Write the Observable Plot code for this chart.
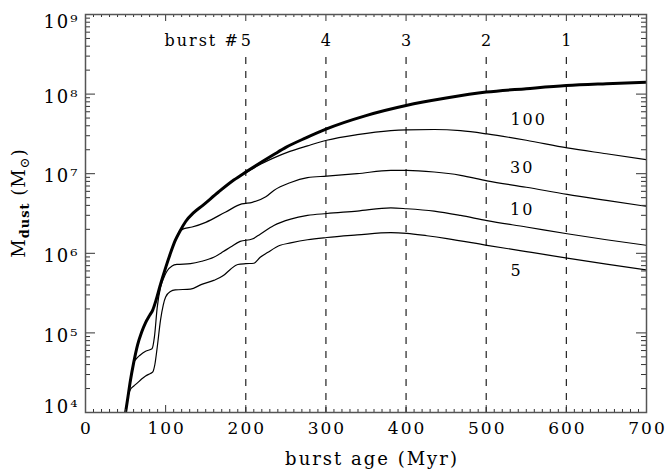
<!DOCTYPE html>
<html><head><meta charset="utf-8">
<script src="https://cdn.jsdelivr.net/npm/d3@7"></script>
<script src="https://cdn.jsdelivr.net/npm/@observablehq/plot@0.6"></script>
<style>body{margin:0;background:#fff} #chart svg{display:block}</style>
</head><body><div id="chart"></div>
<script>
// ---- data (burst age in Myr, dust mass in solar masses) ----
const ageTotal = [50, 53, 56, 60, 65, 70, 75, 80, 84, 88, 93, 100, 106, 112, 118, 125, 135, 146, 166, 185, 200, 235, 250, 275, 300, 350, 400, 450, 500, 550, 600, 650, 700];
const mTotal = [1.0e4, 1.58e4, 2.51e4, 4.17e4, 7.08e4, 1.02e5, 1.35e5, 1.66e5, 1.95e5, 2.57e5, 3.89e5, 6.61e5, 1.0e6, 1.45e6, 1.91e6, 2.51e6, 3.24e6, 3.98e6, 5.89e6, 8.32e6, 1.05e7, 1.74e7, 2.14e7, 2.82e7, 3.63e7, 5.37e7, 7.19e7, 8.91e7, 1.06e8, 1.17e8, 1.28e8, 1.35e8, 1.41e8];

const age100 = [50, 53, 56, 60, 65, 70, 75, 80, 84, 88, 93, 100, 106, 112, 118, 125, 135, 146, 166, 185, 200, 215, 235, 255, 277, 301, 339, 381, 401, 435, 468, 501, 550, 601, 650, 700];
const m100 = [1.0e4, 1.58e4, 2.51e4, 4.17e4, 7.08e4, 1.02e5, 1.35e5, 1.66e5, 1.95e5, 2.57e5, 3.89e5, 6.61e5, 1.0e6, 1.45e6, 1.91e6, 2.51e6, 3.24e6, 3.98e6, 5.89e6, 8.32e6, 1.02e7, 1.26e7, 1.58e7, 1.91e7, 2.24e7, 2.63e7, 3.09e7, 3.47e7, 3.55e7, 3.59e7, 3.47e7, 3.16e7, 2.63e7, 2.11e7, 1.78e7, 1.50e7];

const age30 = [50, 53, 56, 60, 65, 70, 75, 80, 84, 88, 93, 100, 106, 112, 117, 123, 133, 150, 175, 195, 208, 225, 235, 256, 277, 301, 339, 381, 401, 435, 468, 501, 550, 601, 650, 700];
const m30 = [1.0e4, 1.58e4, 2.51e4, 4.17e4, 7.08e4, 1.02e5, 1.35e5, 1.66e5, 1.95e5, 2.57e5, 3.89e5, 6.61e5, 1.0e6, 1.45e6, 1.86e6, 2.04e6, 2.14e6, 2.45e6, 3.31e6, 4.17e6, 4.37e6, 5.13e6, 6.17e6, 7.76e6, 8.91e6, 9.33e6, 1.0e7, 1.10e7, 1.10e7, 1.05e7, 9.55e6, 8.13e6, 6.76e6, 5.50e6, 4.62e6, 3.89e6];

const age10 = [50, 53, 56, 60, 63, 68, 75, 83, 86, 89.5, 93.6, 98, 102, 108, 114, 131, 145, 160, 172, 181, 193, 208, 218, 235, 256, 277, 301, 339, 381, 401, 435, 468, 501, 550, 601, 650, 700];
const m10 = [1.0e4, 1.58e4, 2.51e4, 4.17e4, 4.68e4, 5.25e4, 5.89e4, 6.31e4, 8.91e4, 2.09e5, 3.72e5, 5.01e5, 6.03e5, 6.92e5, 7.24e5, 7.41e5, 7.94e5, 8.91e5, 1.05e6, 1.20e6, 1.41e6, 1.51e6, 1.74e6, 2.24e6, 2.69e6, 2.99e6, 3.16e6, 3.39e6, 3.72e6, 3.63e6, 3.39e6, 2.99e6, 2.57e6, 2.14e6, 1.76e6, 1.48e6, 1.26e6];

const age5 = [50, 53, 56, 60, 64.5, 70, 75, 81, 84, 86.5, 89.5, 93.6, 97, 100, 106, 112, 131, 145, 160, 172, 181, 190, 200, 210, 218, 227, 243, 256, 277, 301, 339, 381, 401, 426, 451, 501, 550, 601, 650, 700];
const m5 = [1.0e4, 1.58e4, 1.95e4, 2.14e4, 2.34e4, 2.63e4, 2.88e4, 3.09e4, 3.24e4, 3.98e4, 6.61e4, 1.45e5, 2.24e5, 2.82e5, 3.31e5, 3.47e5, 3.55e5, 4.07e5, 4.57e5, 5.25e5, 6.31e5, 7.24e5, 7.41e5, 7.50e5, 8.91e5, 1.02e6, 1.26e6, 1.35e6, 1.48e6, 1.58e6, 1.70e6, 1.82e6, 1.78e6, 1.66e6, 1.53e6, 1.26e6, 1.05e6, 8.71e5, 7.33e5, 6.17e5];

const curveNames = ["100", "30", "10", "5"];
const curveLabelAge = [553, 545, 545, 538];
const curveLabelM = [4.75e7, 1.19e7, 3.52e6, 5.96e5];

const burstAges = [200, 300, 400, 500, 600];
const burstLabels = ["5", "4", "3", "2", "1"];
const burstPrefix = "burst #";
const burstLabelM = 4.6e8;

const xTicks = [0, 100, 200, 300, 400, 500, 600, 700];
const xTickLabels = ["0", "100", "200", "300", "400", "500", "600", "700"];
const yTicks = [1e4, 1e5, 1e6, 1e7, 1e8, 1e9];
const yTickLabels = ["10\u2074", "10\u2075", "10\u2076", "10\u2077", "10\u2078", "10\u2079"];
const xTitle = "burst age (Myr)";

// ---- build tables ----
const thin = [];
[[age100, m100, "100"], [age30, m30, "30"], [age10, m10, "10"], [age5, m5, "5"]].forEach(([a, m, s]) => {
  a.forEach((t, i) => thin.push({age: t, m: m[i], series: s}));
});
const thick = ageTotal.map((t, i) => ({age: t, m: mTotal[i]}));
const xMinor = d3.range(0, 701, 10).filter(v => v % 100 !== 0);
const yMinor = [];
for (let e = 4; e < 9; e++) for (let k = 2; k <= 9; k++) yMinor.push(k * Math.pow(10, e));
const curveLab = curveNames.map((n, i) => ({age: curveLabelAge[i], m: curveLabelM[i], text: n}));
const burstLab = burstAges.map((a, i) => ({age: a, text: burstLabels[i]}));
const yLab = yTicks.map((v, i) => ({v, text: yTickLabels[i]}));

const W = 668, H = 475, mL = 85, mR = 22, mT = 14, mB = 63;
const fw = W - mL - mR, fh = H - mT - mB;
const serif = "DejaVu Serif";
const tickColor = "#333";

const plot = Plot.plot({
  width: W, height: H,
  marginLeft: mL, marginRight: mR, marginTop: mT, marginBottom: mB,
  style: {fontFamily: serif, background: "#fff", color: "#000", letterSpacing: "2px", overflow: "visible"},
  x: {domain: [0, 700], axis: null},
  y: {type: "log", domain: [1e4, 1e9], axis: null},
  marks: [
    Plot.ruleX(burstAges, {x: d => d, insetTop: 43, stroke: "#222", strokeWidth: 1.2, strokeDasharray: "7,7"}),
    Plot.line(thin, {x: "age", y: "m", z: "series", stroke: "#000", strokeWidth: 1.2, curve: "monotone-x", clip: true}),
    Plot.line(thick, {x: "age", y: "m", stroke: "#000", strokeWidth: 3, curve: "monotone-x", clip: true}),
    // inward ticks
    Plot.ruleX(xMinor, {x: d => d, insetTop: fh - 3, stroke: tickColor}),
    Plot.ruleX(xMinor, {x: d => d, insetBottom: fh - 3, stroke: tickColor}),
    Plot.ruleX(xTicks, {x: d => d, insetTop: fh - 7, stroke: tickColor}),
    Plot.ruleX(xTicks, {x: d => d, insetBottom: fh - 7, stroke: tickColor}),
    Plot.ruleY(yMinor, {y: d => d, insetRight: fw - 5, stroke: tickColor}),
    Plot.ruleY(yMinor, {y: d => d, insetLeft: fw - 5, stroke: tickColor}),
    Plot.ruleY(yTicks, {y: d => d, insetRight: fw - 10, stroke: tickColor}),
    Plot.ruleY(yTicks, {y: d => d, insetLeft: fw - 10, stroke: tickColor}),
    Plot.frame({stroke: "#555", strokeWidth: 1.5}),
    // tick labels
    Plot.text(xTicks, {x: d => d, text: (d, i) => xTickLabels[i], frameAnchor: "bottom", lineAnchor: "top", dy: 9, dx: 1, fontSize: 17}),
    Plot.text(yLab.filter(d => d.v > 1e4 && d.v < 1e9), {y: "v", text: "text", frameAnchor: "left", textAnchor: "end", dx: -6, dy: 3, fontSize: 18}),
    Plot.text(yLab.filter(d => d.v === 1e9), {y: "v", text: "text", frameAnchor: "left", textAnchor: "end", dx: -6, dy: 8, fontSize: 18}),
    Plot.text(yLab.filter(d => d.v === 1e4), {y: "v", text: "text", frameAnchor: "left", textAnchor: "end", dx: -6, dy: -5, fontSize: 18}),
    Plot.text([xTitle], {text: d => d, frameAnchor: "bottom", dy: 52, dx: 6, fontSize: 18}),
    // annotations
    Plot.text(burstLab, {x: "age", y: () => burstLabelM, text: "text", fontSize: 16, dx: 1}),
    Plot.text([burstPrefix], {x: () => burstAges[0], y: () => burstLabelM, text: d => d, textAnchor: "end", dx: -6, fontSize: 16}),
    Plot.text(curveLab, {x: "age", y: "m", text: "text", fontSize: 16})
  ]
});

const svg = d3.select(plot);
const yl = svg.append("text")
  .attr("transform", "translate(25,203) rotate(-90)")
  .attr("text-anchor", "middle")
  .attr("font-family", serif)
  .attr("font-size", 18)
  .attr("letter-spacing", "1px")
  .attr("fill", "#000");
yl.append("tspan").text("M");
yl.append("tspan").attr("font-size", 13).attr("dy", 4).attr("font-weight", "bold").text("dust");
yl.append("tspan").attr("dy", -4).text(" (M");
yl.append("tspan").attr("font-size", 13).attr("dy", 4).text("\u2299");
yl.append("tspan").attr("dy", -4).text(")");

document.getElementById("chart").appendChild(plot);
</script>
</body></html>
